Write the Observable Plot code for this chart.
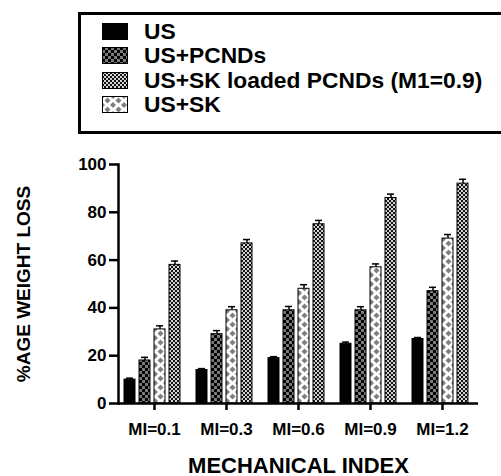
<!DOCTYPE html>
<html>
<head>
<meta charset="utf-8">
<script src="https://cdn.jsdelivr.net/npm/d3@7"></script>
<script src="https://cdn.jsdelivr.net/npm/@observablehq/plot@0.6"></script>
<style>
  html, body { margin: 0; padding: 0; background: #fff; }
  body { width: 501px; height: 476px; overflow: hidden; position: relative; font-family: "Liberation Sans", Arial, sans-serif; }
  #defs { position: absolute; width: 0; height: 0; }
  #legend { position: absolute; left: 78px; top: 12px; width: 460px; height: 112px; border: 3px solid #000; box-sizing: content-box; padding-top: 4px; }
  .row { display: flex; align-items: center; height: 24.5px; }
  .row svg { margin-left: 21px; flex: none; }
  .row span { margin-left: 16px; font-size: 22.8px; font-weight: bold; color: #000; white-space: nowrap; line-height: 1; }
  #chart { position: absolute; left: 0; top: 140px; }
</style>
</head>
<body>
<svg id="defs" aria-hidden="true">
  <defs>
    <pattern id="pPCND" patternUnits="userSpaceOnUse" width="6" height="6">
      <rect width="6" height="6" fill="#7a7a7a"></rect>
      <rect x="0" y="0" width="3" height="3" fill="#000"></rect>
      <rect x="3" y="3" width="3" height="3" fill="#000"></rect>
    </pattern>
    <pattern id="pLoaded" patternUnits="userSpaceOnUse" width="4" height="4">
      <rect width="4" height="4" fill="#d4d4d4"></rect>
      <rect x="0" y="0" width="2" height="2" fill="#111"></rect>
      <rect x="2" y="2" width="2" height="2" fill="#111"></rect>
    </pattern>
    <pattern id="pSK" patternUnits="userSpaceOnUse" width="11" height="9">
      <rect width="11" height="9" fill="#fff"></rect>
      <path d="M5.5,1.5 L8.5,4.5 L5.5,7.5 L2.5,4.5 Z" fill="#7f7f7f"></path>
      <path d="M0,-3 L3,0 L0,3 L-3,0 Z" fill="#7f7f7f"></path>
      <path d="M11,-3 L14,0 L11,3 L8,0 Z" fill="#7f7f7f"></path>
      <path d="M0,6 L3,9 L0,12 L-3,9 Z" fill="#7f7f7f"></path>
      <path d="M11,6 L14,9 L11,12 L8,9 Z" fill="#7f7f7f"></path>
    </pattern>
  </defs>
</svg>
<div id="legend"></div>
<div id="chart"></div>
<script>
// ---- data ----
const groups = ["MI=0.1", "MI=0.3", "MI=0.6", "MI=0.9", "MI=1.2"];
const series = ["US", "US+PCNDs", "US+SK", "US+SK loaded PCNDs (M1=0.9)"];
const legendOrder = ["US", "US+PCNDs", "US+SK loaded PCNDs (M1=0.9)", "US+SK"];
const usValues = [10, 14, 19, 25, 27];
const pcndValues = [18, 29, 39, 39, 47];
const skValues = [31, 39, 48, 57, 69];
const loadedValues = [58, 67, 75, 86, 92];
const usErr = [0.6, 0.6, 0.6, 0.7, 0.6];
const pcndErr = [1.3, 1.5, 1.6, 1.5, 1.6];
const skErr = [1.5, 1.5, 1.7, 1.4, 1.7];
const loadedErr = [1.6, 1.6, 1.6, 1.6, 1.8];
const yTicks = [0, 20, 40, 60, 80, 100];
const yTitle = "%AGE WEIGHT LOSS";
const xTitle = "MECHANICAL INDEX";
const fills = ["#000", "url(#pPCND)", "url(#pSK)", "url(#pLoaded)"];

const valueArrays = [usValues, pcndValues, skValues, loadedValues];
const errArrays = [usErr, pcndErr, skErr, loadedErr];
const data = groups.flatMap((g, i) => series.map((s, j) => ({
  group: g, series: s, value: valueArrays[j][i], err: errArrays[j][i]
})));

// ---- legend ----
const legend = document.getElementById("legend");
for (const s of legendOrder) {
  const row = document.createElement("div");
  row.className = "row";
  const fill = fills[series.indexOf(s)];
  row.innerHTML = `<svg width="26" height="17"><rect x="0.5" y="0.5" width="25" height="16" fill="${fill}" stroke="#000" stroke-width="1"></rect></svg><span>${s}</span>`;
  legend.appendChild(row);
}

// ---- chart ----
const chart = Plot.plot({
  width: 501,
  height: 336,
  marginTop: 24,
  marginBottom: 73,
  marginLeft: 117,
  marginRight: 23,
  style: { fontFamily: "Liberation Sans, Arial, sans-serif", fontWeight: "bold", color: "#000", background: "#fff" },
  fx: { domain: groups, padding: 0, axis: null },
  x: { domain: series, axis: null, paddingInner: 0.29, paddingOuter: 0.46, align: 0.35 },
  y: { domain: [0, 100], axis: null },
  color: { domain: series, range: fills },
  marks: [
    Plot.barY(data, { fx: "group", x: "series", y: "value", fill: "series", stroke: "#000", strokeWidth: 1 }),
    Plot.ruleX(data, { fx: "group", x: "series", y1: "value", y2: d => d.value + d.err, stroke: "#000", strokeWidth: 1.5 }),
    Plot.tickY(data, { fx: "group", x: "series", y: d => d.value + d.err, stroke: "#000", strokeWidth: 1.5, inset: 2 }),
    Plot.ruleY([0], { stroke: "#000", strokeWidth: 2.5 }),
    Plot.frame({ anchor: "left", facetAnchor: "left", stroke: "#000", strokeWidth: 2.5 }),
    Plot.axisY({ ticks: yTicks, tickSize: 9, tickPadding: 3, stroke: "#000", strokeWidth: 2.5, fontSize: 17,
      label: yTitle, labelAnchor: "center", labelOffset: 102, labelArrow: "none" }),
    Plot.axisFx({ anchor: "bottom", tickSize: 7, tickPadding: 12, stroke: "#000", strokeWidth: 2.5, fontSize: 17,
      label: xTitle, labelAnchor: "center", labelOffset: 69, labelArrow: "none" })
  ]
});
// title font sizes
chart.querySelectorAll("text").forEach(t => {
  const s = t.textContent.trim();
  if (s === yTitle) t.style.fontSize = "19px";
  else if (s === xTitle) t.style.fontSize = "22px";
});
document.getElementById("chart").appendChild(chart);
</script>
</body>
</html>
